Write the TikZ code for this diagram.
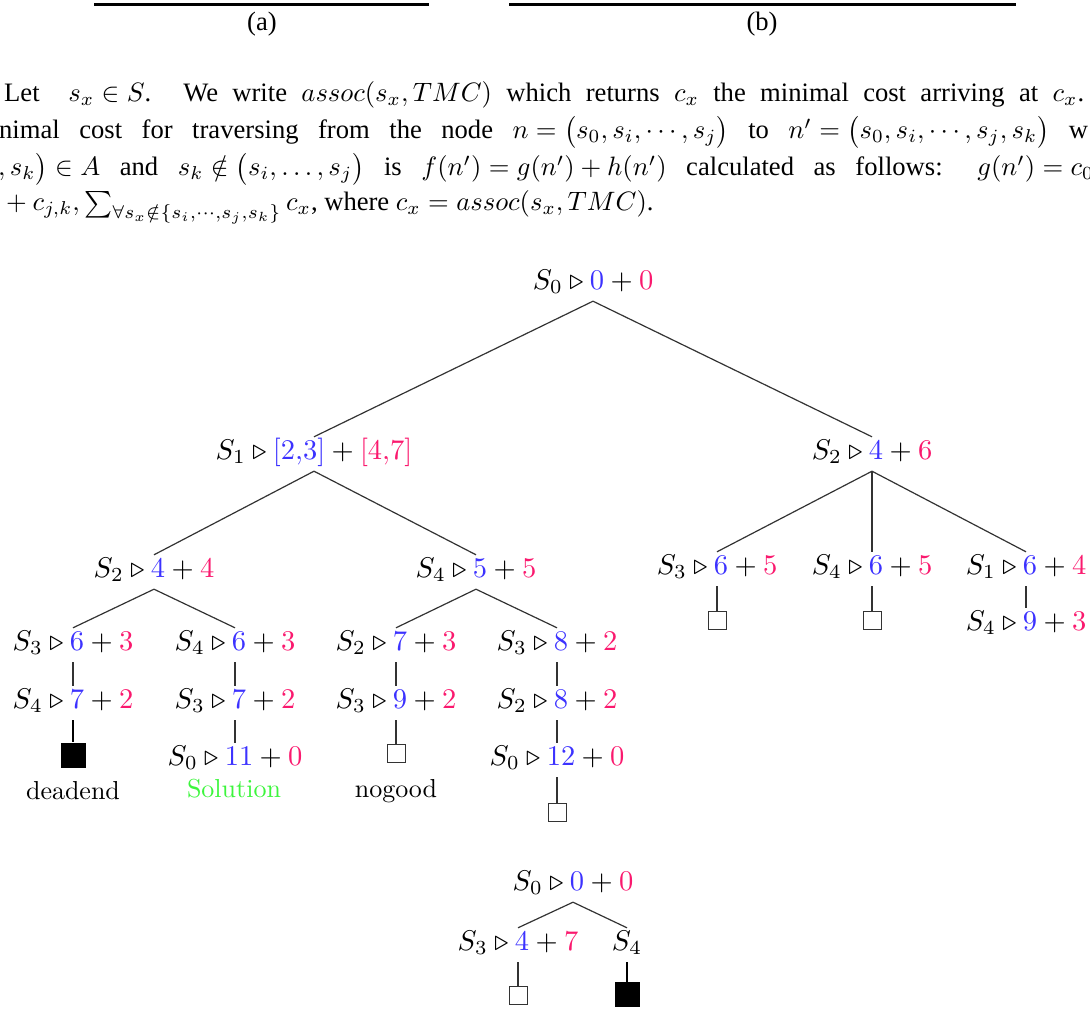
\documentclass[tikz,border=0pt]{standalone}
\usepackage{graphicx}
\usepackage{fontspec}
\newfontfamily\timesf{Liberation Serif}
\definecolor{cblue}{RGB}{60,50,255}
\definecolor{cpink}{RGB}{250,25,110}
\definecolor{cgreen}{RGB}{60,245,60}
\newcommand\B[1]{\textcolor{cblue}{#1}}
\newcommand\R[1]{\textcolor{cpink}{#1}}
\newcommand\tz[1]{\scalebox{2.85}{#1}}
\newcommand\pz[1]{\scalebox{2.66}{#1}}
\newcommand\lz[1]{\scalebox{2.6}{#1}}
\newcommand\m[1]{\mbox{$#1$}}
\newcommand\lab[3]{\tz{$S_{#1}\triangleright\B{#2}+\R{#3}$}}
\tikzset{
  paraline/.style={anchor=base west, inner sep=0pt, font=\timesf\fontsize{10}{12}\selectfont},
  captxt/.style={anchor=base, inner sep=0pt, font=\timesf\fontsize{10}{12}\selectfont},
  tn/.style={anchor=base, inner xsep=0pt, inner ysep=0pt, text height=22pt, text depth=12pt, font=\fontsize{10}{12}\selectfont},
  tl/.style={anchor=base, inner sep=0pt, font=\fontsize{10}{12}\selectfont},
  tedge/.style={draw=black!80, line width=1.2pt},
  tthick/.style={draw=black, line width=2.2pt},
  wsq/.style={draw=black!80, line width=0.9pt, minimum size=18pt, inner sep=0pt, fill=white},
  bsq/.style={fill=black, minimum size=25pt, inner sep=0pt},
  rulebar/.style={line width=2.5pt, black}
}
\begin{document}
\begin{tikzpicture}[x=1pt,y=-1pt]
\useasboundingbox (0,0) rectangle (1090,1011);
\clip (0,0) rectangle (1090,1011);
% top rules and captions
\coordinate (r1a) at (94,4.7); \coordinate (r1b) at (429,4.7);
\coordinate (r2a) at (509,4.7); \coordinate (r2b) at (1016,4.7);
\draw[rulebar] (r1a) -- (r1b);
\draw[rulebar] (r2a) -- (r2b);
\node[captxt] (capa) at (262,31) {\pz{(a)}};
\node[captxt] (capb) at (762,31) {\pz{(b)}};
% paragraph
\node[paraline] (l1) at (4,102) {\pz{\makebox[406pt][s]{Let\ \ \m{s_x\in S}. We write \m{assoc(s_x,TMC)} which returns \m{c_x} the minimal cost arriving at \m{c_x}.}}};
\node[paraline] (l2) at (-1,139) {\pz{\makebox[409.4pt][s]{nimal cost for traversing from the node \m{n=\bigl(s_0,s_i,\cdots,s_j\bigr)} to \m{n'=\bigl(s_0,s_i,\cdots,s_j,s_k\bigr)} w}}};
\node[paraline] (l3) at (-2,176) {\pz{\makebox[412pt][s]{\m{,s_k\bigr)\in A} and \m{s_k\notin\bigl(s_i,\ldots,s_j\bigr)} is \m{f(n')=g(n')+h(n')} calculated as follows: \m{g(n')=c_0}}}};
\node[paraline] (l4) at (0,211) {\pz{\m{{}+c_{j,k},\sum_{\forall s_x\notin\{s_i,\cdots,s_j,s_k\}}c_x}, where \m{c_x=assoc(s_x,TMC)}.}};
% main tree
\node[tn] (root) at (593,289) {\lab{0}{0}{0}};
\node[tn] (a) at (314,459) {\tz{$S_1\triangleright\B{[2{,}3]}+\R{[4{,}7]}$}};
\node[tn] (b) at (872,459) {\lab{2}{4}{6}};
\node[tn] (aa) at (154,577) {\lab{2}{4}{4}};
\node[tn] (ab) at (476,577) {\lab{4}{5}{5}};
\node[tn] (ba) at (717,574) {\lab{3}{6}{5}};
\node[tn] (bb) at (872,574) {\lab{4}{6}{5}};
\node[tn] (bc) at (1026,574) {\lab{1}{6}{4}};
\node[tn] (bca) at (1026,630) {\lab{4}{9}{3}};
\node[tn] (aaa) at (73,650) {\lab{3}{6}{3}};
\node[tn] (aab) at (235,650) {\lab{4}{6}{3}};
\node[tn] (aba) at (396,650) {\lab{2}{7}{3}};
\node[tn] (abb) at (557,650) {\lab{3}{8}{2}};
\node[tn] (aaaa) at (73,708) {\lab{4}{7}{2}};
\node[tn] (aaba) at (235,708) {\lab{3}{7}{2}};
\node[tn] (abaa) at (396,708) {\lab{3}{9}{2}};
\node[tn] (abba) at (557,708) {\lab{2}{8}{2}};
\node[tn] (aabaa) at (235,765) {\lab{0}{11}{0}};
\node[tn] (abbaa) at (557,765) {\lab{0}{12}{0}};
% leaves
\node[bsq] (q1) at (73,755) {};
\node[wsq] (q2) at (396,753.5) {};
\node[wsq] (q3) at (557,812.5) {};
\node[wsq] (q4) at (717,620.5) {};
\node[wsq] (q5) at (872,620.5) {};
\node[tl] (dead) at (73,799) {\lz{deadend}};
\node[tl] (sol) at (234,797) {\lz{\textcolor{cgreen}{Solution}}};
\node[tl] (nog) at (396,797) {\lz{nogood}};
% edges
\draw[tedge] (root.south) -- (a.north);
\draw[tedge] (root.south) -- (b.north);
\draw[tedge] (a.south) -- (aa.north);
\draw[tedge] (a.south) -- (ab.north);
\draw[tedge] (b.south) -- (ba.north);
\draw[tedge] (b.south) -- (bb.north);
\draw[tedge] (b.south) -- (bc.north);
\draw[tedge] (bc.south) -- (bca.north);
\draw[tedge] (aa.south) -- (aaa.north);
\draw[tedge] (aa.south) -- (aab.north);
\draw[tedge] (ab.south) -- (aba.north);
\draw[tedge] (ab.south) -- (abb.north);
\draw[tedge] (aaa.south) -- (aaaa.north);
\draw[tedge] (aab.south) -- (aaba.north);
\draw[tedge] (aba.south) -- (abaa.north);
\draw[tedge] (abb.south) -- (abba.north);
\draw[tedge] (aaba.south) -- (aabaa.north);
\draw[tedge] (abba.south) -- (abbaa.north);
\draw[tthick] (aaaa.south) -- (q1.north);
\draw[tedge] (abaa.south) -- (q2.north);
\draw[tedge] (abbaa.south) -- (q3.north);
\draw[tedge] (ba.south) -- (q4.north);
\draw[tedge] (bb.south) -- (q5.north);
% second tree
\node[tn] (t0) at (573,890) {\lab{0}{0}{0}};
\node[tn] (t1) at (518,950) {\lab{3}{4}{7}};
\node[tn] (t2) at (627,950) {\tz{$S_4$}};
\node[wsq] (q6) at (518,995) {};
\node[bsq] (q7) at (627,994.5) {};
\draw[tedge] (t0.south) -- (t1.north);
\draw[tedge] (t0.south) -- (t2.north);
\draw[tedge] (t1.south) -- (q6.north);
\draw[tthick] (t2.south) -- (q7.north);
\end{tikzpicture}
\end{document}
